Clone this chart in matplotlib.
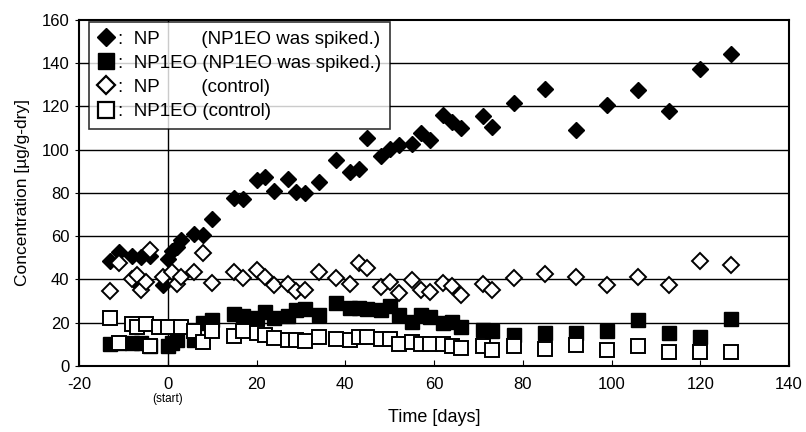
import matplotlib.pyplot as plt
import matplotlib.transforms as mtransforms
from matplotlib.lines import Line2D

plt.rcParams['font.family'] = ['Liberation Sans', 'DejaVu Sans']
plt.rcParams['axes.unicode_minus'] = False

# ─── Data ────────────────────────────────────────────────────
# NP, NP1EO spiked
np_spk_day = [-13, -11, -8, -7, -6, -4, -1, 0, 1, 2, 3, 6, 8, 10, 15, 17, 20, 22,
              24, 27, 29, 31, 34, 38, 41, 43, 45, 48, 50, 52, 55, 57, 59, 62, 64,
              66, 71, 73, 78, 85, 92, 99, 106, 113, 120, 127]
np_spk_conc = [48.5, 52.5, 51, 38.5, 50.5, 51, 37.5, 49.5, 53, 55, 58, 61, 60.5, 68,
               77.5, 77, 86, 87.5, 81, 86.5, 80.5, 80, 85, 95, 89.5, 91, 105.5, 97,
               100.5, 102, 102.5, 107.5, 104.5, 116, 113, 110, 115.5, 110.5, 121.5,
               128, 109, 120.5, 127.5, 118, 137.5, 144]

# NP1EO, NP1EO spiked
eo_spk_day = [-13, -11, -8, -6, -4, 0, 1, 2, 6, 8, 10, 15, 17, 20, 22, 24, 27, 29,
              31, 34, 38, 41, 43, 45, 48, 50, 52, 55, 57, 59, 62, 64, 66, 71, 73,
              78, 85, 92, 99, 106, 113, 120, 127]
eo_spk_conc = [10, 10.5, 10.5, 10.5, 9, 9, 10.5, 12, 12, 20, 21, 24, 23, 22, 25, 22,
               23, 26, 26.5, 23.5, 29, 27, 27, 26.5, 26, 27.5, 23.5, 20.5, 23.5, 22.5,
               20, 20.5, 18, 16.5, 16, 14.5, 15, 15, 16, 21, 15, 13.5, 21.5]

# NP, control
np_ctl_day = [-13, -11, -8, -7, -6, -5, -4, -1, 1, 2, 3, 6, 8, 10, 15, 17, 20, 22,
              24, 27, 29, 31, 34, 38, 41, 43, 45, 48, 50, 52, 55, 57, 59, 62, 64,
              66, 71, 73, 78, 85, 92, 99, 106, 113, 120, 127]
np_ctl_conc = [34.5, 47.5, 40, 42, 35, 39, 53.5, 41, 43.5, 38, 41, 43.5, 52, 38.5,
               43.5, 40.5, 44.5, 41, 37.5, 38, 34.5, 35, 43.5, 40.5, 38, 47.5, 45.5,
               36.5, 39, 33.5, 39.5, 35, 34, 38.5, 37, 33, 38, 35, 40.5, 42.5, 41,
               37.5, 41, 37.5, 48.5, 46.5]

# NP1EO, control
eo_ctl_day = [-13, -11, -8, -7, -5, -4, -2, 0, 3, 6, 8, 10, 15, 17, 20, 22, 24, 27,
              29, 31, 34, 38, 41, 43, 45, 48, 50, 52, 55, 57, 59, 62, 64, 66, 71,
              73, 78, 85, 92, 99, 106, 113, 120, 127]
eo_ctl_conc = [22, 10.5, 19.5, 18, 19.5, 9, 18, 18, 18, 16, 11, 16, 14, 16, 15, 14.5,
               13, 12, 12, 11.5, 13.5, 12.5, 12, 13.5, 13.5, 12.5, 12.5, 10, 11, 10,
               10, 10, 9, 8.5, 9, 7.5, 9, 8, 9.5, 7.5, 9, 6.5, 6.5, 6.5]

y_ticks = [0, 20, 40, 60, 80, 100, 120, 140, 160]
x_ticks = [-20, 0, 20, 40, 60, 80, 100, 120, 140]

legend_labels = [':  NP        (NP1EO was spiked.)',
                 ':  NP1EO (NP1EO was spiked.)',
                 ':  NP        (control)',
                 ':  NP1EO (control)']

fig = plt.figure(figsize=(8.06, 4.32), dpi=100)
ax = fig.add_axes([0.098, 0.153, 0.881, 0.801])

# --- Grid: horizontal lines + vertical line at day 0 ---
for yv in y_ticks[1:-1]:
    ax.axhline(yv, color='black', linewidth=1.0, zorder=1)
ax.axvline(0, color='black', linewidth=1.0, zorder=1)

# --- Series ---
ax.plot(np_spk_day, np_spk_conc, linestyle='none', marker='D', markersize=7.8,
        markerfacecolor='black', markeredgecolor='black', zorder=3)
ax.plot(eo_spk_day, eo_spk_conc, linestyle='none', marker='s', markersize=10,
        markerfacecolor='black', markeredgecolor='black', zorder=3)
ax.plot(np_ctl_day, np_ctl_conc, linestyle='none', marker='D', markersize=7.8,
        markerfacecolor='white', markeredgecolor='black', markeredgewidth=1.4, zorder=4)
ax.plot(eo_ctl_day, eo_ctl_conc, linestyle='none', marker='s', markersize=10,
        markerfacecolor='white', markeredgecolor='black', markeredgewidth=1.4, zorder=4)

# --- Axes ---
ax.set_xlim(-20, 140)
ax.set_ylim(0, 160)
ax.set_xticks(x_ticks)
ax.set_yticks(y_ticks)
ax.tick_params(axis='x', direction='in', length=4, labelsize=12, pad=8)
ax.tick_params(axis='y', direction='out', length=3, labelsize=12, pad=4)
for sp in ax.spines.values():
    sp.set_linewidth(1.5)
    sp.set_color('black')

ax.set_xlabel('Time [days]', fontsize=13, labelpad=12)
ax.set_ylabel('Concentration [µg/g-dry]', fontsize=12.5, labelpad=8)

trans = mtransforms.blended_transform_factory(ax.transData, ax.transAxes)
ax.text(0, -0.097, '(start)', transform=trans, ha='center', va='center',
        fontsize=8.5, family=['Liberation Sans Narrow', 'Liberation Sans'])

# --- Legend ---
handles = [
    Line2D([], [], linestyle='none', marker='D', markersize=9.5,
           markerfacecolor='black', markeredgecolor='black'),
    Line2D([], [], linestyle='none', marker='s', markersize=11,
           markerfacecolor='black', markeredgecolor='black'),
    Line2D([], [], linestyle='none', marker='D', markersize=9.5,
           markerfacecolor='white', markeredgecolor='black', markeredgewidth=1.6),
    Line2D([], [], linestyle='none', marker='s', markersize=11,
           markerfacecolor='white', markeredgecolor='black', markeredgewidth=1.6),
]
leg = ax.legend(handles, legend_labels, loc='upper left', bbox_to_anchor=(0.014, 0.994),
                fontsize=13.5, frameon=True, fancybox=False, edgecolor='black',
                handlelength=0.9, handletextpad=0.2, borderpad=0.45, labelspacing=0.38,
                borderaxespad=0)
leg.get_frame().set_linewidth(1.2)
leg.set_zorder(10)

plt.savefig('out.png', dpi=100)
